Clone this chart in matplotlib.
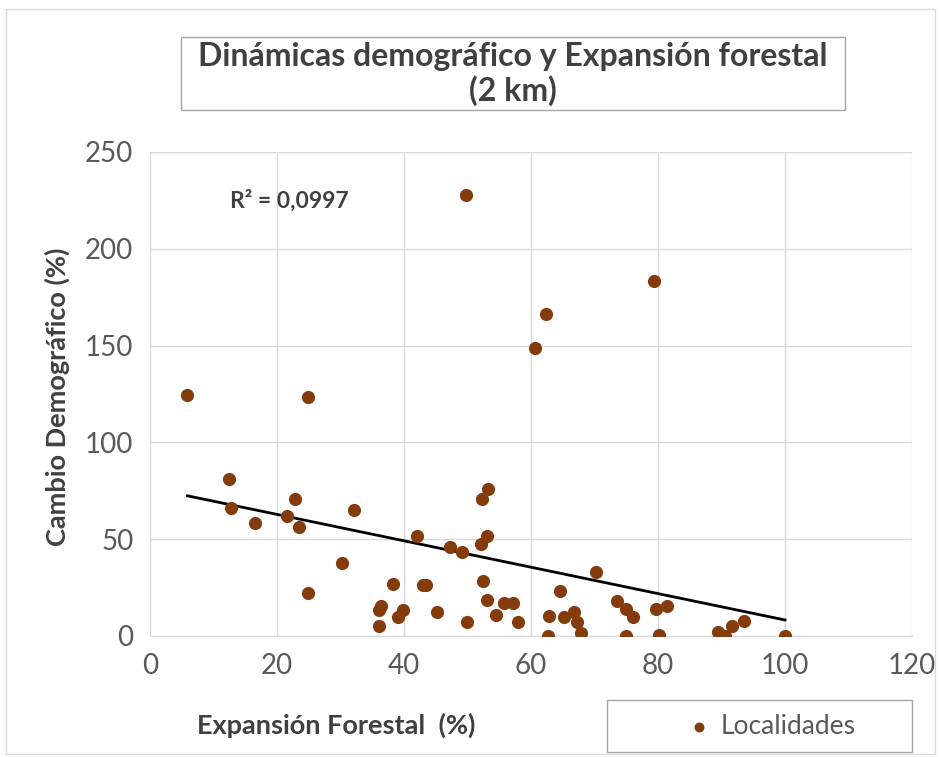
import numpy as np
import matplotlib
matplotlib.use("Agg")
import matplotlib.pyplot as plt
from matplotlib.patches import Rectangle

plt.rcParams['font.family'] = ['Lato', 'DejaVu Sans']

# data
expansion = [5.9, 49.8, 62.3, 60.6, 79.4, 24.9, 12.4, 12.8, 16.5, 22.8, 21.6, 23.5,
             32.2, 30.2, 24.9, 38.2, 36.3, 36.1, 36.1, 39.9, 39.0, 43.5, 43.0, 42.1,
             45.2, 47.3, 49.1, 49.9, 53.3, 52.3, 53.0, 52.1, 52.5, 53.0, 54.5, 55.8,
             57.1, 58.0, 62.9, 62.7, 64.6, 65.2, 66.7, 67.3, 67.9, 70.2, 73.5, 74.9,
             76.0, 75.0, 79.7, 81.4, 80.2, 89.4, 90.5, 91.6, 93.6, 100.0]
cambio = [124.4, 227.6, 166.5, 149.0, 183.5, 123.3, 81.0, 65.9, 58.6, 70.8, 62.2, 56.4,
          64.9, 37.7, 22.4, 26.7, 15.5, 13.5, 5.3, 13.4, 9.9, 26.2, 26.2, 51.9,
          12.2, 46.2, 43.3, 7.0, 75.9, 70.9, 51.9, 47.3, 28.4, 18.5, 11.0, 17.3,
          16.8, 7.2, 10.3, 0.0, 23.3, 9.6, 12.2, 7.0, 1.7, 32.9, 18.1, 13.9,
          9.6, 0.0, 13.9, 15.4, 0.5, 1.9, 0.0, 5.1, 7.7, 0.0]
x_ticks = [0, 20, 40, 60, 80, 100, 120]
y_ticks = [0, 50, 100, 150, 200, 250]
r2_label = "R² = 0,0997"

W, H = 940, 757
fig = plt.figure(figsize=(W / 100, H / 100), dpi=100)

# outer chart border
fig.patches.append(Rectangle((6 / W, 1 - 754 / H), 929 / W, 745 / H, transform=fig.transFigure,
                             fill=False, edgecolor='#D9D9D9', linewidth=1))

ax = fig.add_axes([150 / W, 1 - 636 / H, 762 / W, 484 / H])

x = np.array(expansion)
y = np.array(cambio)
ax.scatter(x, y, s=90, color='#843C0C', zorder=3, label='Localidades', linewidths=0)

# linear trend
m, b = np.polyfit(x, y, 1)
xl = np.array([x.min(), x.max()])
ax.plot(xl, m * xl + b, color='black', linewidth=2, zorder=2)

ax.set_xlim(0, 120)
ax.set_ylim(0, 250)
ax.set_xticks(x_ticks)
ax.set_yticks(y_ticks)
ax.grid(True, color='#D9D9D9', linewidth=1)
ax.set_axisbelow(True)
for s in ['top', 'right', 'left']:
    ax.spines[s].set_visible(False)
ax.spines['bottom'].set_color('#D9D9D9')
ax.tick_params(length=0, labelsize=20, labelcolor='#595959', pad=12)

ax.text(22, 225, r2_label, fontsize=16.5, fontweight='bold', color='#404040', ha='center', va='center')

fig.text(57 / W, 1 - 397 / H, 'Cambio Demográfico (%)', fontsize=19.5, fontweight='bold',
         color='#404040', ha='center', va='center', rotation=90)
fig.text(336 / W, 1 - 725 / H, 'Expansión Forestal  (%)', fontsize=19.5, fontweight='bold',
         color='#404040', ha='center', va='center')

# title box
fig.patches.append(Rectangle((181 / W, 1 - 110 / H), 664 / W, 73 / H, transform=fig.transFigure,
                             fill=False, edgecolor='#A6A6A6', linewidth=1))
fig.text(513 / W, 1 - 74 / H, 'Dinámicas demográfico y Expansión forestal\n(2 km)', fontsize=23,
         fontweight='bold', color='#404040', ha='center', va='center', linespacing=1.2)

# legend box
fig.patches.append(Rectangle((607 / W, 1 - 752 / H), 305 / W, 52 / H, transform=fig.transFigure,
                             fill=False, edgecolor='#A6A6A6', linewidth=1))
leg = ax.legend(loc='center', bbox_to_anchor=(764 / W, 1 - 726 / H), bbox_transform=fig.transFigure,
                fontsize=19, frameon=False, handletextpad=-0.2, markerscale=0.75, borderaxespad=0)
for t in leg.get_texts():
    t.set_color('#595959')

fig.savefig('out.png', dpi=100)
